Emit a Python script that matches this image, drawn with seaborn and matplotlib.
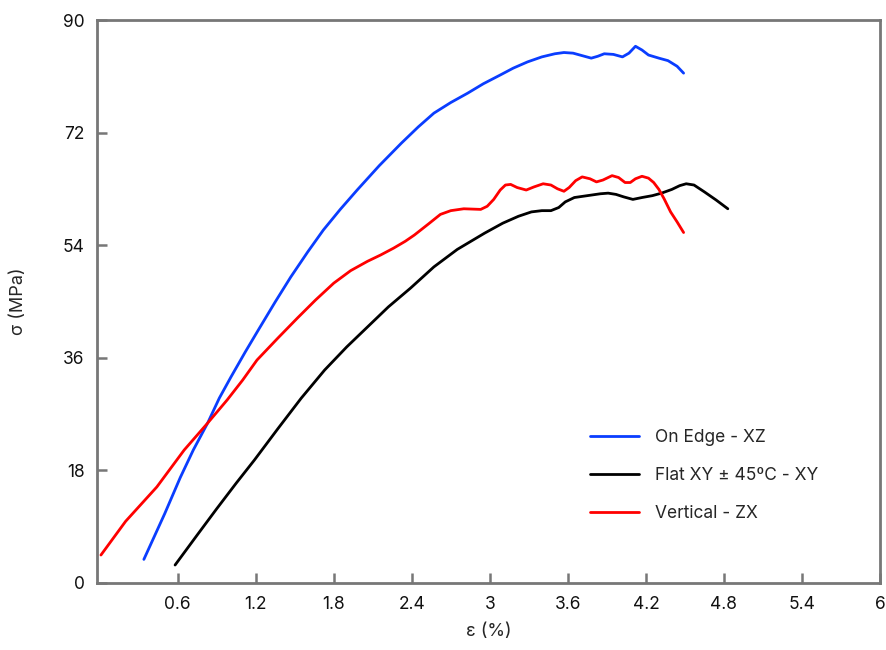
import numpy as np
import pandas as pd
import seaborn as sns
import matplotlib.pyplot as plt

# strain (%) / stress (MPa)
edge_x = [0.34, 0.50, 0.62, 0.72, 0.83, 0.92, 1.01, 1.12, 1.22, 1.35, 1.47, 1.60, 1.72, 1.85,
          1.98, 2.15, 2.32, 2.45, 2.57, 2.70, 2.83, 2.95, 3.08, 3.18, 3.29, 3.40, 3.50, 3.57,
          3.64, 3.71, 3.78, 3.83, 3.88, 3.95, 4.02, 4.07, 4.12, 4.17, 4.22, 4.30, 4.37, 4.44, 4.49]
edge_y = [3.7, 11.0, 16.8, 21.2, 25.5, 29.5, 32.9, 36.9, 40.4, 44.9, 48.9, 52.9, 56.4, 59.7,
          62.8, 66.7, 70.3, 72.9, 75.1, 76.8, 78.3, 79.8, 81.2, 82.3, 83.3, 84.1, 84.6, 84.8,
          84.7, 84.3, 83.9, 84.2, 84.6, 84.5, 84.1, 84.7, 85.8, 85.2, 84.4, 83.9, 83.5, 82.6, 81.5]

flat_x = [0.58, 0.75, 0.90, 1.05, 1.19, 1.37, 1.55, 1.73, 1.90, 2.06, 2.22, 2.39, 2.57, 2.75,
          2.96, 3.10, 3.22, 3.32, 3.40, 3.47, 3.53, 3.58, 3.65, 3.75, 3.85, 3.91, 3.97, 4.03,
          4.10, 4.17, 4.25, 4.32, 4.40, 4.46, 4.51, 4.57, 4.65, 4.74, 4.83]
flat_y = [2.8, 7.6, 11.8, 15.9, 19.6, 24.6, 29.5, 34.0, 37.7, 40.9, 44.1, 47.1, 50.5, 53.3,
          55.9, 57.5, 58.6, 59.3, 59.5, 59.5, 60.0, 60.9, 61.6, 61.9, 62.2, 62.3, 62.1, 61.7,
          61.3, 61.6, 61.9, 62.3, 62.9, 63.5, 63.8, 63.6, 62.5, 61.2, 59.8]

vert_x = [0.01, 0.20, 0.44, 0.65, 0.83, 0.98, 1.10, 1.21, 1.37, 1.52, 1.66, 1.80, 1.93, 2.06,
          2.16, 2.26, 2.35, 2.42, 2.53, 2.62, 2.70, 2.80, 2.93, 2.98, 3.03, 3.08, 3.12, 3.16,
          3.21, 3.28, 3.34, 3.41, 3.47, 3.52, 3.57, 3.61, 3.66, 3.71, 3.77, 3.82, 3.87, 3.94,
          3.99, 4.04, 4.08, 4.12, 4.17, 4.22, 4.26, 4.30, 4.34, 4.39, 4.44, 4.49]
vert_y = [4.4, 9.8, 15.3, 21.2, 25.5, 29.2, 32.4, 35.6, 39.1, 42.3, 45.2, 47.9, 49.9, 51.4,
          52.4, 53.5, 54.6, 55.6, 57.4, 58.9, 59.5, 59.8, 59.7, 60.2, 61.3, 62.8, 63.6, 63.7,
          63.2, 62.8, 63.3, 63.8, 63.6, 63.0, 62.6, 63.2, 64.3, 64.9, 64.6, 64.1, 64.4, 65.1,
          64.8, 64.0, 64.0, 64.6, 65.0, 64.7, 64.0, 62.9, 61.4, 59.3, 57.7, 56.0]

series_names = ["On Edge - XZ", "Flat XY \u00b1 45\u00baC - XY", "Vertical - ZX"]
series_colors = ["#0a3dff", "#000000", "#ff0000"]

df = pd.concat([
    pd.DataFrame({"strain": edge_x, "stress": edge_y, "series": series_names[0]}),
    pd.DataFrame({"strain": flat_x, "stress": flat_y, "series": series_names[1]}),
    pd.DataFrame({"strain": vert_x, "stress": vert_y, "series": series_names[2]}),
])

sns.set_style("ticks")
plt.rcParams["font.family"] = ["Inter", "DejaVu Sans"]
plt.rcParams["xtick.direction"] = "in"
plt.rcParams["ytick.direction"] = "in"

fig = plt.figure(figsize=(8.87, 6.5), dpi=100)
ax = fig.add_axes([0.1094, 0.1038, 0.8827, 0.8654])

sns.lineplot(
    data=df, x="strain", y="stress", hue="series",
    palette=dict(zip(series_names, series_colors)),
    sort=False, estimator=None, linewidth=2, ax=ax,
)

ax.set_xlim(-0.02, 6)
ax.set_ylim(0, 90)
ax.set_xticks([0.6, 1.2, 1.8, 2.4, 3, 3.6, 4.2, 4.8, 5.4, 6])
ax.set_xticklabels(["0.6", "1.2", "1.8", "2.4", "3", "3.6", "4.2", "4.8", "5.4", "6"])
ax.set_yticks([0, 18, 36, 54, 72, 90])
ax.tick_params(axis="both", which="major", direction="in", length=7, width=1.8,
               color="#777777", labelsize=12.5, labelcolor="#111111",
               bottom=True, left=True, top=False, right=False)
ax.tick_params(axis="x", pad=10)
ax.tick_params(axis="y", pad=9)
for s in ax.spines.values():
    s.set_color("#777777")
    s.set_linewidth(2)

ax.set_xlabel("\u03b5 (%)", fontsize=13, labelpad=7)
ax.set_ylabel("\u03c3 (MPa)", fontsize=13, labelpad=26)

ax.legend(title=None, frameon=False, loc="upper left", bbox_to_anchor=(0.61, 0.30),
          fontsize=12.5, handlelength=2.8, handletextpad=0.9, labelspacing=1.2)

plt.savefig("out.png", dpi=100)
plt.close()
